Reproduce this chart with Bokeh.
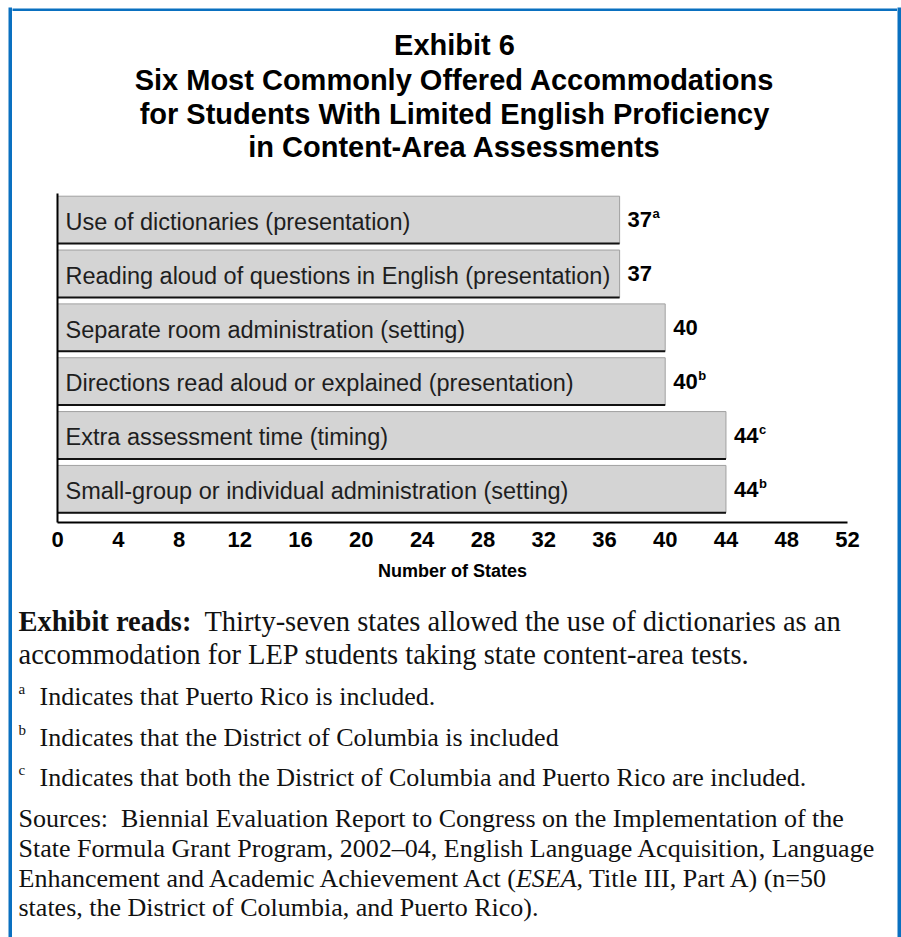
import glob
from bokeh.plotting import figure
from bokeh.layouts import row, column
from bokeh.models import Range1d, Label, ColumnDataSource, FixedTicker
from bokeh.core.properties import value
from bokeh.embed import file_html
from bokeh.resources import INLINE

# ---------------- data ----------------
categories = [
    "Use of dictionaries (presentation)",
    "Reading aloud of questions in English (presentation)",
    "Separate room administration (setting)",
    "Directions read aloud or explained (presentation)",
    "Extra assessment time (timing)",
    "Small-group or individual administration (setting)",
]
states = [37, 37, 40, 40, 44, 44]
notes = ["a", "", "", "b", "c", "b"]
x_ticks = [0, 4, 8, 12, 16, 20, 24, 28, 32, 36, 40, 44, 48, 52]

title_lines = [
    "Exhibit 6",
    "Six Most Commonly Offered Accommodations",
    "for Students With Limited English Proficiency",
    "in Content-Area Assessments",
]
reads_bold = "Exhibit reads:"
reads_lines = [
    "Thirty-seven states allowed the use of dictionaries as an",
    "accommodation for LEP students taking state content-area tests.",
]
footnote_marks = ["a", "b", "c"]
footnote_texts = [
    "Indicates that Puerto Rico is included.",
    "Indicates that the District of Columbia is included",
    "Indicates that both the District of Columbia and Puerto Rico are included.",
]
source_lines = [
    "Sources:\u00a0 Biennial Evaluation Report to Congress on the Implementation of the",
    "State Formula Grant Program, 2002\u201304, English Language Acquisition, Language",
    None,
    "states, the District of Columbia, and Puerto Rico).",
]
source_line3 = ["Enhancement and Academic Achievement Act (", "ESEA", ", Title III, Part A) (n=50"]

# ---------------- style ----------------
BLUE = "#0a70c0"
SERIF = "Liberation Serif"
SANS = "Liberation Sans"
READS_SIZE = 28.5
NOTE_SIZE = 26
SRC_SIZE = 26
DY = -9  # label baseline correction

def _font(name, size):
    try:
        from PIL import ImageFont
        hits = glob.glob("/usr/share/fonts/**/" + name, recursive=True)
        if hits:
            return ImageFont.truetype(hits[0], size)
    except Exception:
        pass
    return None

def text_width(txt, fname, size, avg=0.45):
    f = _font(fname, int(round(size)))
    if f is not None:
        try:
            return f.getlength(txt) * size / int(round(size))
        except Exception:
            pass
    return len(txt) * size * avg

def no_align(f):
    try:
        f.frame_align = False
    except Exception:
        pass
    return f

def bare(w, h, bg="white", **borders):
    f = figure(width=w, height=h, output_backend="svg", toolbar_location=None,
               x_axis_type=None, y_axis_type=None,
               x_range=Range1d(0, w), y_range=Range1d(h, 0),
               background_fill_color=bg, border_fill_color="white", min_border=0)
    for k, v in borders.items():
        setattr(f, k, v)
    f.outline_line_color = None
    f.grid.visible = False
    return no_align(f)

# ---------------- blue frame strips ----------------
left_strip = bare(12, 937, BLUE, min_border_left=8, min_border_top=7)
right_strip = bare(4, 937, BLUE, min_border_top=7)
top_strip = bare(885, 11, BLUE, min_border_top=7)
bottom_strip = bare(885, 4, BLUE)

# ---------------- title ----------------
title_fig = bare(885, 174)
for t, b in zip(title_lines, [42, 77, 111, 144]):
    title_fig.add_layout(Label(x=442, y=b + DY, text=t, text_align="center", text_baseline="alphabetic",
                               text_font=SANS, text_font_size="29px", text_font_style="bold",
                               text_color="black"))

# ---------------- bar chart ----------------
p = figure(width=885, height=405, output_backend="svg", toolbar_location=None,
           x_range=Range1d(0, 52), y_range=Range1d(5.62, -0.49),
           min_border_left=45, min_border_right=50, min_border_top=8, min_border_bottom=68,
           background_fill_color="white", border_fill_color="white")
p.outline_line_color = None
p.grid.visible = False
no_align(p)

ypos = list(range(len(categories)))
src = ColumnDataSource(dict(
    y=ypos,
    yb=[v + 0.44 for v in ypos],
    x=states,
    cat=categories,
    lab=[str(v) for v in states],
    note=notes,
))

p.hbar(y="y", left=0, right="x", height=0.88, source=src,
       fill_color="#d4d4d4", line_color="#a0a0a0", line_width=1)
p.segment(x0=0, y0="yb", x1="x", y1="yb", source=src, line_color="#111111", line_width=2)

p.text(x=0, y="y", text="cat", source=src, x_offset=8, y_offset=2,
       text_baseline="middle", text_align="left",
       text_font=value(SANS), text_font_size="23.5px", text_color="#1e1e1e")

p.text(x="x", y="y", text="lab", source=src, x_offset=8, y_offset=0,
       text_baseline="middle", text_align="left",
       text_font=value(SANS), text_font_size="22px", text_font_style="bold", text_color="black")
p.text(x="x", y="y", text="note", source=src, x_offset=8 + 25, y_offset=-6,
       text_baseline="middle", text_align="left",
       text_font=value(SANS), text_font_size="13px", text_font_style="bold", text_color="black")

xa = p.xaxis[0]
xa.ticker = FixedTicker(ticks=x_ticks)
xa.major_tick_line_color = None
xa.minor_tick_line_color = None
xa.axis_line_width = 2
xa.axis_line_color = "black"
xa.major_label_text_font = SANS
xa.major_label_text_font_size = "22px"
xa.major_label_text_font_style = "bold"
xa.major_label_text_color = "black"
xa.major_label_standoff = 3
xa.axis_label = "Number of States"
xa.axis_label_text_font = SANS
xa.axis_label_text_font_size = "18px"
xa.axis_label_text_font_style = "bold"
xa.axis_label_text_color = "black"
xa.axis_label_standoff = 11

ya = p.yaxis[0]
ya.ticker = FixedTicker(ticks=[])
ya.major_tick_line_color = None
ya.minor_tick_line_color = None
ya.major_label_text_font_size = "0px"
ya.axis_line_width = 2
ya.axis_line_color = "black"

# ---------------- notes ----------------
notes_fig = bare(885, 343)

def serif_label(txt, x, y, style="normal", size=NOTE_SIZE):
    notes_fig.add_layout(Label(x=x, y=y + DY, text=txt, text_align="left", text_baseline="alphabetic",
                               text_font=SERIF, text_font_size=f"{size}px", text_font_style=style,
                               text_color="#111111"))

LEFT = 6
bw = text_width(reads_bold, "LiberationSerif-Bold.ttf", READS_SIZE, 0.47)
serif_label(reads_bold, LEFT, 40, "bold", READS_SIZE)
serif_label(reads_lines[0], LEFT + bw + 13, 40, size=READS_SIZE)
serif_label(reads_lines[1], LEFT, 73, size=READS_SIZE)

for m, t, b in zip(footnote_marks, footnote_texts, [115, 156, 196]):
    serif_label(m, LEFT, b - 8, size=15)
    serif_label(t, 27, b)

for line, b in zip(source_lines, [237, 267, 297, 326]):
    if line is not None:
        serif_label(line, LEFT, b, size=SRC_SIZE)
    else:
        w1 = text_width(source_line3[0], "LiberationSerif-Regular.ttf", SRC_SIZE)
        w2 = text_width(source_line3[1], "LiberationSerif-Italic.ttf", SRC_SIZE)
        serif_label(source_line3[0], LEFT, b, size=SRC_SIZE)
        serif_label(source_line3[1], LEFT + w1, b, "italic", SRC_SIZE)
        serif_label(source_line3[2], LEFT + w1 + w2, b, size=SRC_SIZE)

layout = row(left_strip,
             column(top_strip, title_fig, p, notes_fig, bottom_strip, spacing=0),
             right_strip, spacing=0)

open("out.html", "w").write(file_html(layout, INLINE))
